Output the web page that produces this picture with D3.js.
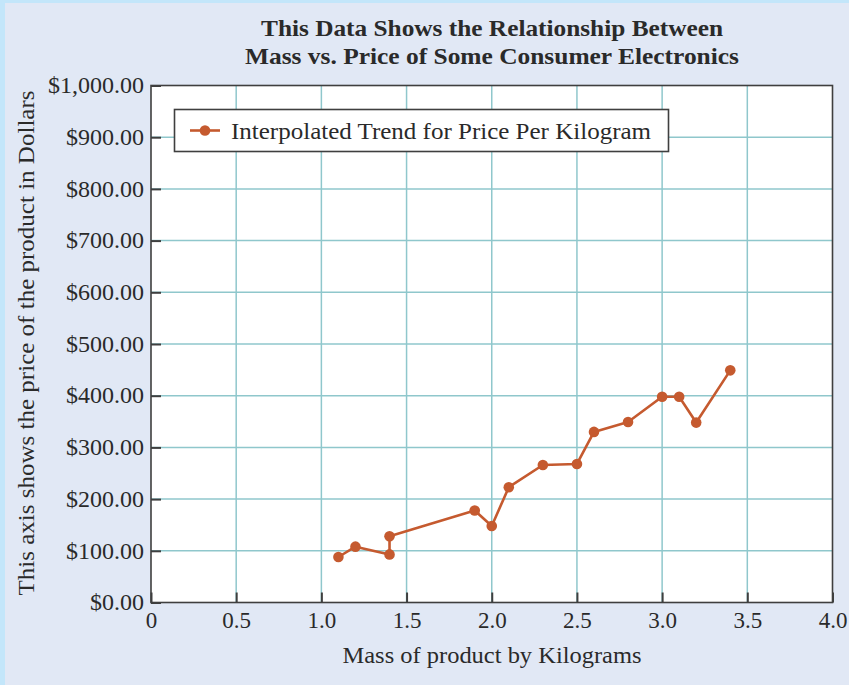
<!DOCTYPE html>
<html>
<head>
<meta charset="utf-8">
<script src="https://cdn.jsdelivr.net/npm/d3@7/dist/d3.min.js"></script>
<style>
  html, body { margin: 0; padding: 0; background: #e1e8f5; }
  svg { display: block; }
  text { font-family: "Liberation Serif", "DejaVu Serif", serif; fill: #2a2a2a; }
</style>
</head>
<body>
<svg id="chart" width="849" height="685"></svg>
<script>
// Mass (kg) and price (USD) of each product
const massKg = [1.1, 1.2, 1.4, 1.4, 1.9, 2.0, 2.1, 2.3, 2.5, 2.6, 2.8, 3.0, 3.1, 3.2, 3.4];
const priceUsd = [88, 108, 93, 128, 178, 148, 223, 266, 268, 330, 349, 398, 398, 348, 449];

const xTicks = [0, 0.5, 1.0, 1.5, 2.0, 2.5, 3.0, 3.5, 4.0];
const xTickLabels = ["0", "0.5", "1.0", "1.5", "2.0", "2.5", "3.0", "3.5", "4.0"];
const yTicks = [0, 100, 200, 300, 400, 500, 600, 700, 800, 900, 1000];

const titleLines = [
  "This Data Shows the Relationship Between",
  "Mass vs. Price of Some Consumer Electronics"
];
const xTitle = "Mass of product by Kilograms";
const yTitle = "This axis shows the price of the product in Dollars";
const seriesName = "Interpolated Trend for Price Per Kilogram";

const lineColor = "#c55a2f";
const gridColor = "#8fc7cc";
const frameColor = "#3f3f3f";

const svg = d3.select("#chart");
const W = 849, H = 685;
const plot = { left: 151, right: 832.5, top: 85.5, bottom: 602.5 };

// page background with the light band on the top and left edges
svg.append("rect").attr("width", W).attr("height", H).attr("fill", "#e1e8f5");
svg.append("rect").attr("width", W).attr("height", 3).attr("fill", "#c3e6fa");
svg.append("rect").attr("width", 5).attr("height", H).attr("fill", "#c3e6fa");

const x = d3.scaleLinear().domain([0, 4]).range([plot.left, plot.right]);
const y = d3.scaleLinear().domain([0, 1000]).range([plot.bottom, plot.top]);

// plot area
svg.append("rect")
  .attr("x", plot.left).attr("y", plot.top)
  .attr("width", plot.right - plot.left).attr("height", plot.bottom - plot.top)
  .attr("fill", "#ffffff");

// grid
const grid = svg.append("g").attr("stroke", gridColor).attr("stroke-width", 1.5);
grid.selectAll("line.v").data(xTicks.slice(1, -1)).join("line")
  .attr("x1", d => x(d)).attr("x2", d => x(d))
  .attr("y1", plot.top).attr("y2", plot.bottom);
grid.selectAll("line.h").data(yTicks.slice(1, -1)).join("line")
  .attr("x1", plot.left).attr("x2", plot.right)
  .attr("y1", d => y(d)).attr("y2", d => y(d));

// axes with inward ticks
const fmtMoney = d3.format("$,.2f");
const yAxis = svg.append("g")
  .attr("transform", `translate(${plot.left},0)`)
  .call(d3.axisLeft(y).tickValues(yTicks).tickSizeInner(-10).tickSizeOuter(0)
    .tickPadding(8).tickFormat(fmtMoney));
yAxis.select(".domain").remove();
yAxis.selectAll(".tick line").attr("stroke", frameColor).attr("stroke-width", 2);
yAxis.selectAll(".tick text")
  .attr("x", -7).attr("dy", "0.3em")
  .style("font-size", "24px").style("fill", "#2a2a2a");

const xAxis = svg.append("g")
  .attr("transform", `translate(0,${plot.bottom})`)
  .call(d3.axisBottom(x).tickValues(xTicks).tickSizeInner(-10).tickSizeOuter(0)
    .tickPadding(6).tickFormat((d, i) => xTickLabels[i]));
xAxis.select(".domain").remove();
xAxis.selectAll(".tick line").attr("stroke", frameColor).attr("stroke-width", 2);
xAxis.selectAll(".tick text")
  .attr("y", 4).attr("dy", "0.95em")
  .style("font-size", "23px").style("fill", "#2a2a2a");

// frame
svg.append("rect")
  .attr("x", plot.left).attr("y", plot.top)
  .attr("width", plot.right - plot.left).attr("height", plot.bottom - plot.top)
  .attr("fill", "none").attr("stroke", frameColor).attr("stroke-width", 1.6);

// series line and markers
const pts = massKg.map((m, i) => [m, priceUsd[i]]);
svg.append("path")
  .datum(pts)
  .attr("fill", "none").attr("stroke", lineColor).attr("stroke-width", 2.6)
  .attr("stroke-linejoin", "round")
  .attr("d", d3.line().x(d => x(d[0])).y(d => y(d[1])));
svg.append("g").selectAll("circle").data(pts).join("circle")
  .attr("cx", d => x(d[0])).attr("cy", d => y(d[1])).attr("r", 5.3)
  .attr("fill", lineColor);

// legend
const lg = svg.append("g");
lg.append("rect").attr("x", 174.5).attr("y", 109.5).attr("width", 494).attr("height", 42)
  .attr("fill", "#ffffff").attr("stroke", frameColor).attr("stroke-width", 1.6);
lg.append("line").attr("x1", 190).attr("x2", 220).attr("y1", 130.5).attr("y2", 130.5)
  .attr("stroke", lineColor).attr("stroke-width", 2.6);
lg.append("circle").attr("cx", 205).attr("cy", 130.5).attr("r", 5.3).attr("fill", lineColor);
lg.append("text").attr("x", 231).attr("y", 138.5)
  .attr("textLength", 420).attr("lengthAdjust", "spacingAndGlyphs")
  .style("font-size", "24px").text(seriesName);

// titles
svg.append("g").selectAll("text").data(titleLines).join("text")
  .attr("x", 492).attr("y", (d, i) => 36 + i * 28)
  .attr("text-anchor", "middle")
  .attr("textLength", (d, i) => i === 0 ? 462 : 494)
  .attr("lengthAdjust", "spacingAndGlyphs")
  .style("font-size", "24px").style("font-weight", "bold")
  .text(d => d);

svg.append("text")
  .attr("x", 492).attr("y", 663).attr("text-anchor", "middle")
  .attr("textLength", 299).attr("lengthAdjust", "spacingAndGlyphs")
  .style("font-size", "24px").text(xTitle);

svg.append("text")
  .attr("transform", "translate(34,343) rotate(-90)")
  .attr("text-anchor", "middle")
  .attr("textLength", 505).attr("lengthAdjust", "spacingAndGlyphs")
  .style("font-size", "23.5px").text(yTitle);
</script>
</body>
</html>
